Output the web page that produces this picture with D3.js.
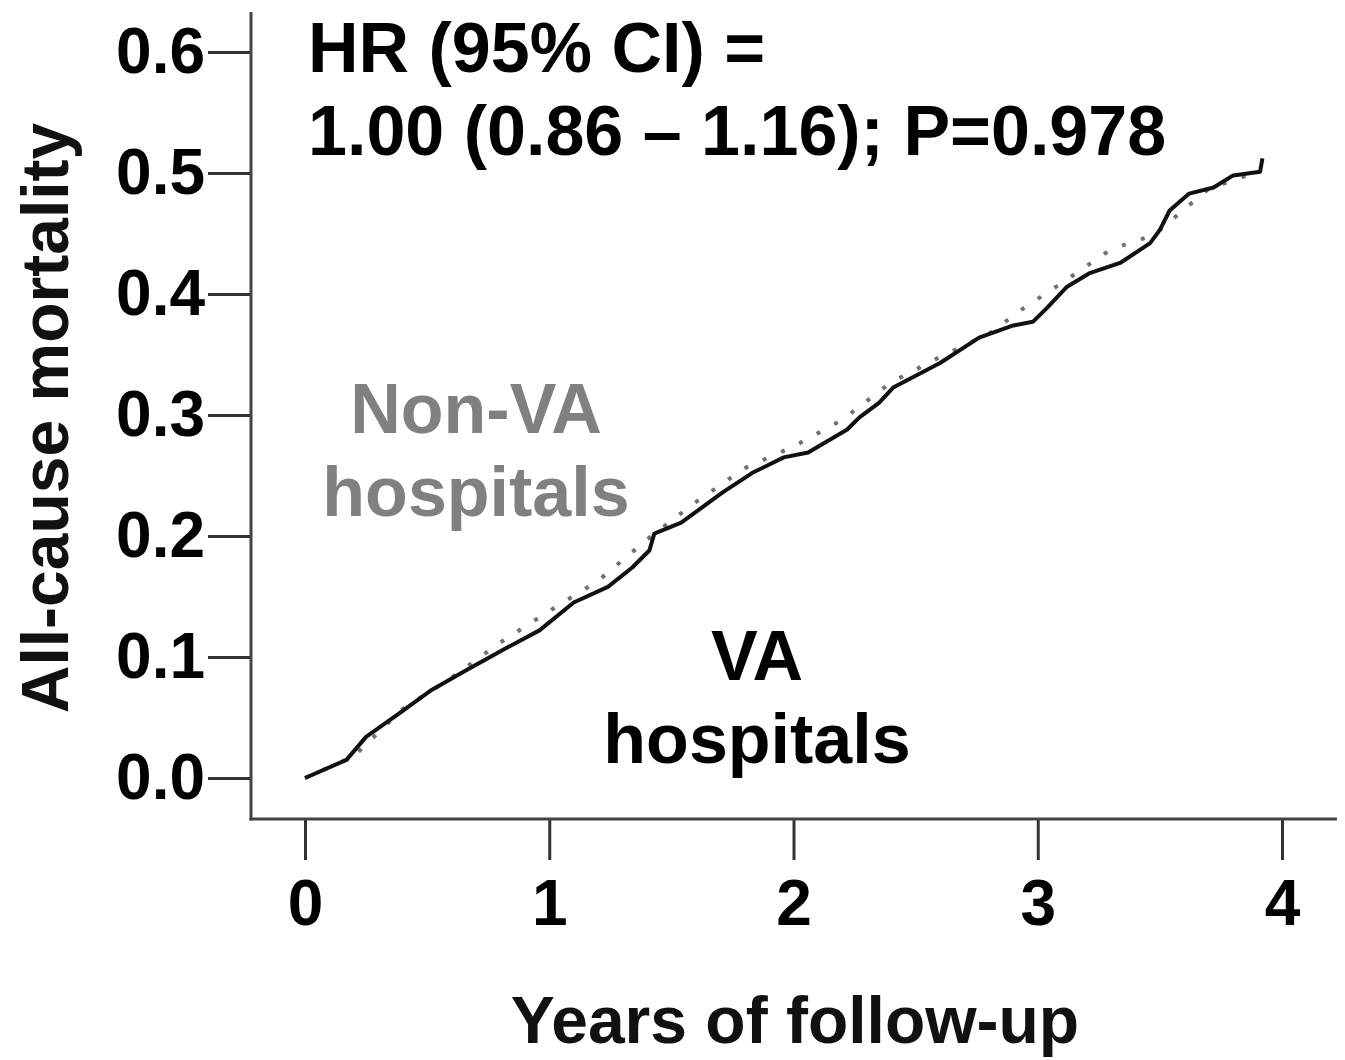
<!DOCTYPE html>
<html>
<head>
<meta charset="utf-8">
<script src="https://cdn.jsdelivr.net/npm/d3@7"></script>
<style>
  body { margin: 0; background: #fff; }
  text { font-family: "Liberation Sans", Arial, sans-serif; }
</style>
</head>
<body>
<svg id="km_chart"></svg>
<script>
// Kaplan-Meier style cumulative mortality
const vaTime = [0, 0.17, 0.25, 0.39, 0.52, 0.66, 0.83, 0.96, 1.10, 1.24, 1.34, 1.41, 1.43, 1.54, 1.71, 1.83, 1.96, 2.06, 2.22, 2.27, 2.35, 2.41, 2.60, 2.76, 2.90, 2.98, 3.04, 3.12, 3.21, 3.34, 3.46, 3.50, 3.54, 3.62, 3.72, 3.80, 3.91, 3.92];
const vaMortality = [0, 0.015, 0.034, 0.054, 0.073, 0.089, 0.108, 0.122, 0.145, 0.158, 0.174, 0.188, 0.202, 0.211, 0.236, 0.252, 0.265, 0.269, 0.288, 0.298, 0.310, 0.323, 0.343, 0.364, 0.374, 0.377, 0.389, 0.406, 0.417, 0.426, 0.442, 0.453, 0.469, 0.483, 0.488, 0.498, 0.501, 0.512];

const nonVaTime = [0, 0.2, 0.4, 0.6, 0.8, 1.0, 1.2, 1.4, 1.6, 1.8, 2.0, 2.2, 2.4, 2.6, 2.8, 2.94, 3.12, 3.30, 3.45, 3.5, 3.7, 3.9];
const nonVaMortality = [0, 0.018, 0.057, 0.083, 0.112, 0.138, 0.163, 0.197, 0.228, 0.256, 0.274, 0.296, 0.327, 0.348, 0.367, 0.388, 0.412, 0.437, 0.447, 0.453, 0.487, 0.501];

const xTicks = [0, 1, 2, 3, 4];
const yTicks = [0, 0.1, 0.2, 0.3, 0.4, 0.5, 0.6];

const titleLines = ["HR (95% CI) =", "1.00 (0.86 \u2013 1.16); P=0.978"];

const svgWidth = 1345, svgHeight = 1060;

// Set the ranges
let x = d3.scaleLinear().domain([0, 4]).range([305, 1282]);
let y = d3.scaleLinear().domain([0, 0.6]).range([778, 52]);

let svg = d3.select("#km_chart")
    .attr("width", svgWidth)
    .attr("height", svgHeight);

// Axis lines run a little past the tick range
const axisX = 251, axisY = 819;

// y axis
let yAxis = d3.axisLeft(y).tickValues(yTicks).tickFormat(d3.format(".1f"))
    .tickSize(43).tickPadding(3);
let gy = svg.append("g")
    .attr("class", "y axis")
    .attr("transform", "translate(" + axisX + ",0)")
    .call(yAxis);

// x axis
let xAxis = d3.axisBottom(x).tickValues(xTicks).tickFormat(d3.format("d"))
    .tickSize(41).tickPadding(20);
let gx = svg.append("g")
    .attr("class", "x axis")
    .attr("transform", "translate(0," + axisY + ")")
    .call(xAxis);

svg.selectAll(".axis .domain").remove();
svg.selectAll(".axis line").attr("stroke", "#333").attr("stroke-width", 3);
svg.selectAll(".axis text")
    .attr("fill", "#000")
    .style("font-size", "64px")
    .style("font-weight", "bold")
    .style("font-family", "'Liberation Sans', Arial, sans-serif");

svg.append("line")
    .attr("x1", axisX).attr("x2", axisX)
    .attr("y1", 12).attr("y2", axisY + 1.5)
    .attr("stroke", "#444").attr("stroke-width", 3);
svg.append("line")
    .attr("x1", axisX - 1.5).attr("x2", 1337)
    .attr("y1", axisY).attr("y2", axisY)
    .attr("stroke", "#444").attr("stroke-width", 3);

// Define the lines
let line = d3.line()
    .x(function(d) { return x(d[0]); })
    .y(function(d) { return y(d[1]); });

// Non-VA hospitals (grey dotted) under VA hospitals (black solid)
svg.append("path")
    .datum(d3.zip(nonVaTime, nonVaMortality))
    .attr("fill", "none")
    .attr("stroke", "#707070")
    .attr("stroke-width", 4)
    .attr("stroke-dasharray", "4,16")
    .attr("d", line);

svg.append("path")
    .datum(d3.zip(vaTime, vaMortality))
    .attr("fill", "none")
    .attr("stroke", "#111")
    .attr("stroke-width", 4)
    .attr("stroke-linejoin", "round")
    .attr("d", line);

// Axis titles
svg.append("text")
    .attr("transform", "translate(68,418) rotate(-90)")
    .attr("text-anchor", "middle")
    .style("font-size", "66px")
    .style("font-weight", "bold")
    .attr("fill", "#111")
    .text("All-cause mortality");

svg.append("text")
    .attr("x", 795).attr("y", 1043)
    .attr("text-anchor", "middle")
    .style("font-size", "66px")
    .style("font-weight", "bold")
    .attr("fill", "#111")
    .text("Years of follow-up");

// HR annotation
svg.append("g").selectAll("text")
    .data(titleLines)
    .join("text")
    .attr("x", 308)
    .attr("y", function(d, i) { return 72 + i * 83; })
    .style("font-size", "70px")
    .style("font-weight", "bold")
    .attr("fill", "#000")
    .text(function(d) { return d; });

// Group labels
let labels = [
    {lines: ["Non-VA", "hospitals"], cx: 476, y0: 433, color: "#808080"},
    {lines: ["VA", "hospitals"], cx: 757, y0: 680, color: "#000"}
];
labels.forEach(function(l) {
    svg.append("g").selectAll("text")
        .data(l.lines)
        .join("text")
        .attr("x", l.cx)
        .attr("y", function(d, i) { return l.y0 + i * 83; })
        .attr("text-anchor", "middle")
        .style("font-size", "70px")
        .style("font-weight", "bold")
        .attr("fill", l.color)
        .text(function(d) { return d; });
});
</script>
</body>
</html>
